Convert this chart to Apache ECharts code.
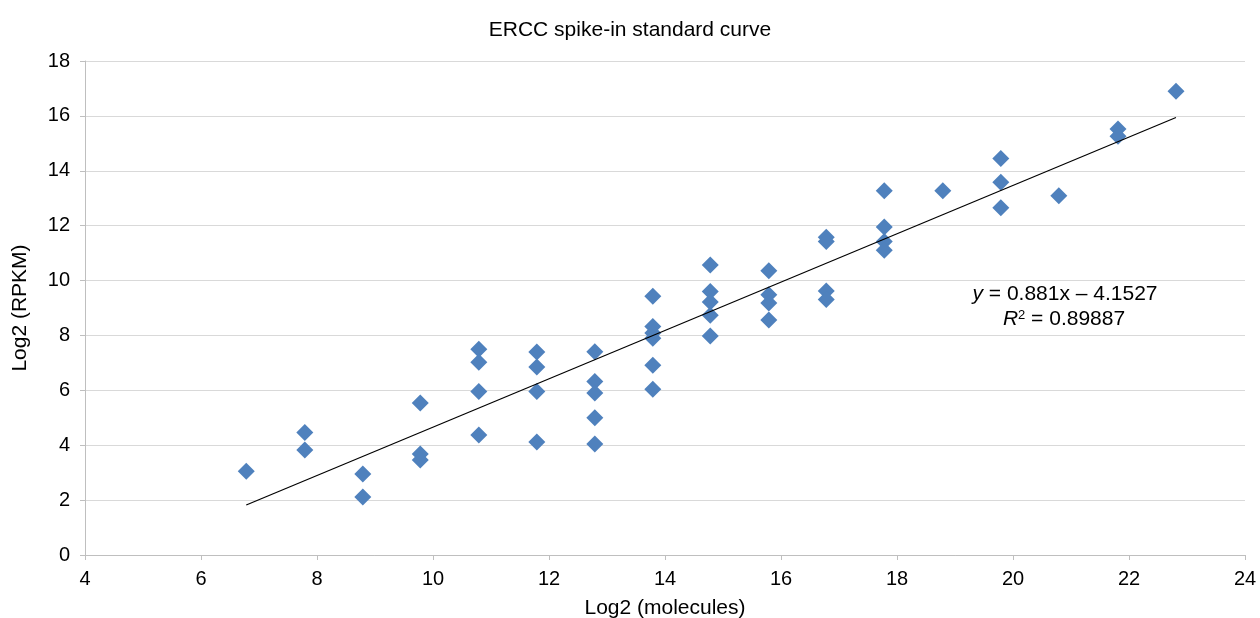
<!DOCTYPE html>
<html>
<head>
<meta charset="utf-8">
<script src="https://cdn.jsdelivr.net/npm/echarts@6/dist/echarts.min.js"></script>
<style>
  html, body { margin: 0; padding: 0; background: #fff; }
  #chart { width: 1260px; height: 618px; }
</style>
</head>
<body>
<div id="chart"></div>
<script>
// log2 molecule counts (x) and log2 RPKM (y) of each ERCC spike-in
var molecules = [
  6.78,
  7.79, 7.79,
  8.79, 8.79,
  9.78, 9.78, 9.78,
  10.79, 10.79, 10.79, 10.79,
  11.79, 11.79, 11.79, 11.79,
  12.79, 12.79, 12.79, 12.79, 12.79,
  13.79, 13.79, 13.79, 13.79, 13.79, 13.79,
  14.78, 14.78, 14.78, 14.78, 14.78,
  15.79, 15.79, 15.79, 15.79,
  16.78, 16.78, 16.78, 16.78,
  17.78, 17.78, 17.78, 17.78,
  18.79,
  19.79, 19.79, 19.79,
  20.79,
  21.81, 21.81,
  22.81
];
var rpkm = [
  3.05,
  4.46, 3.83,
  2.95, 2.11,
  5.54, 3.68, 3.46,
  7.50, 7.02, 5.96, 4.37,
  7.40, 6.85, 5.96, 4.12,
  7.41, 6.32, 5.90, 5.00, 4.04,
  9.43, 8.33, 8.09, 7.90, 6.91, 6.04,
  10.57, 9.60, 9.22, 8.74, 7.98,
  10.36, 9.48, 9.18, 8.56,
  11.58, 11.42, 9.62, 9.31,
  13.27, 11.95, 11.42, 11.10,
  13.27,
  14.45, 13.58, 12.65,
  13.09,
  15.52, 15.26,
  16.90
];
// ends of the linear trend line
var trendX = [6.78, 22.81];
var trendY = [1.82, 15.94];

var xTicks = [4, 24, 2];
var yTicks = [0, 18, 2];

var fontName = "Liberation Sans";

var points = [];
for (var i = 0; i < molecules.length; i++) {
  points.push([molecules[i], rpkm[i]]);
}
var trend = [];
for (var j = 0; j < trendX.length; j++) {
  trend.push([trendX[j], trendY[j]]);
}

var axisGray = "#bfbfbf";

var option = {
  animation: false,
  backgroundColor: "#fff",
  textStyle: { fontFamily: fontName },
  title: {
    text: "ERCC spike-in standard curve",
    left: "center",
    top: 15,
    textStyle: {
      fontFamily: fontName,
      fontSize: 21,
      fontWeight: "normal",
      color: "#000"
    }
  },
  grid: {
    left: 85,
    right: 15,
    top: 61,
    bottom: 63,
    containLabel: false,
    outerBoundsMode: "none"
  },
  xAxis: {
    type: "value",
    min: xTicks[0],
    max: xTicks[1],
    interval: xTicks[2],
    name: "Log2 (molecules)",
    nameLocation: "middle",
    nameGap: 43,
    nameTextStyle: { fontFamily: fontName, fontSize: 21, color: "#000" },
    axisLine: { show: true, lineStyle: { color: axisGray, width: 1 } },
    axisTick: { show: true, length: 5, lineStyle: { color: axisGray } },
    axisLabel: { fontFamily: fontName, fontSize: 20, color: "#000", margin: 14 },
    splitLine: { show: false }
  },
  yAxis: {
    type: "value",
    min: yTicks[0],
    max: yTicks[1],
    interval: yTicks[2],
    name: "Log2 (RPKM)",
    nameLocation: "middle",
    nameRotate: 90,
    nameGap: 54,
    nameTextStyle: { fontFamily: fontName, fontSize: 21, color: "#000" },
    axisLine: { show: true, lineStyle: { color: axisGray, width: 1 } },
    axisTick: { show: true, length: 5, lineStyle: { color: axisGray } },
    axisLabel: { fontFamily: fontName, fontSize: 20, color: "#000", margin: 15 },
    splitLine: { show: true, lineStyle: { color: "#d9d9d9", width: 1 } }
  },
  series: [
    {
      type: "line",
      data: trend,
      symbol: "none",
      silent: true,
      lineStyle: { color: "#000", width: 1.2 },
      z: 3
    },
    {
      type: "scatter",
      data: points,
      symbol: "diamond",
      symbolSize: [17, 17],
      itemStyle: { color: "#4f81bd", opacity: 1 },
      z: 2
    }
  ],
  graphic: [
    {
      type: "text",
      x: 1065,
      y: 284,
      style: {
        text: "{i|y} = 0.881x – 4.1527",
        align: "center",
        fontFamily: fontName,
        fontSize: 21,
        fill: "#000",
        rich: {
          i: { fontFamily: fontName, fontSize: 21, fontStyle: "italic", fill: "#000" }
        }
      }
    },
    {
      type: "text",
      x: 1064,
      y: 309,
      style: {
        text: "{i|R}{s|2} = 0.89887",
        align: "center",
        fontFamily: fontName,
        fontSize: 21,
        fill: "#000",
        rich: {
          i: { fontFamily: fontName, fontSize: 21, fontStyle: "italic", fill: "#000" },
          s: { fontFamily: fontName, fontSize: 13, fill: "#000", verticalAlign: "top", padding: [0, 0, 8, 0] }
        }
      }
    }
  ]
};

var myChart = echarts.init(document.getElementById("chart"));
myChart.setOption(option);
</script>
</body>
</html>
